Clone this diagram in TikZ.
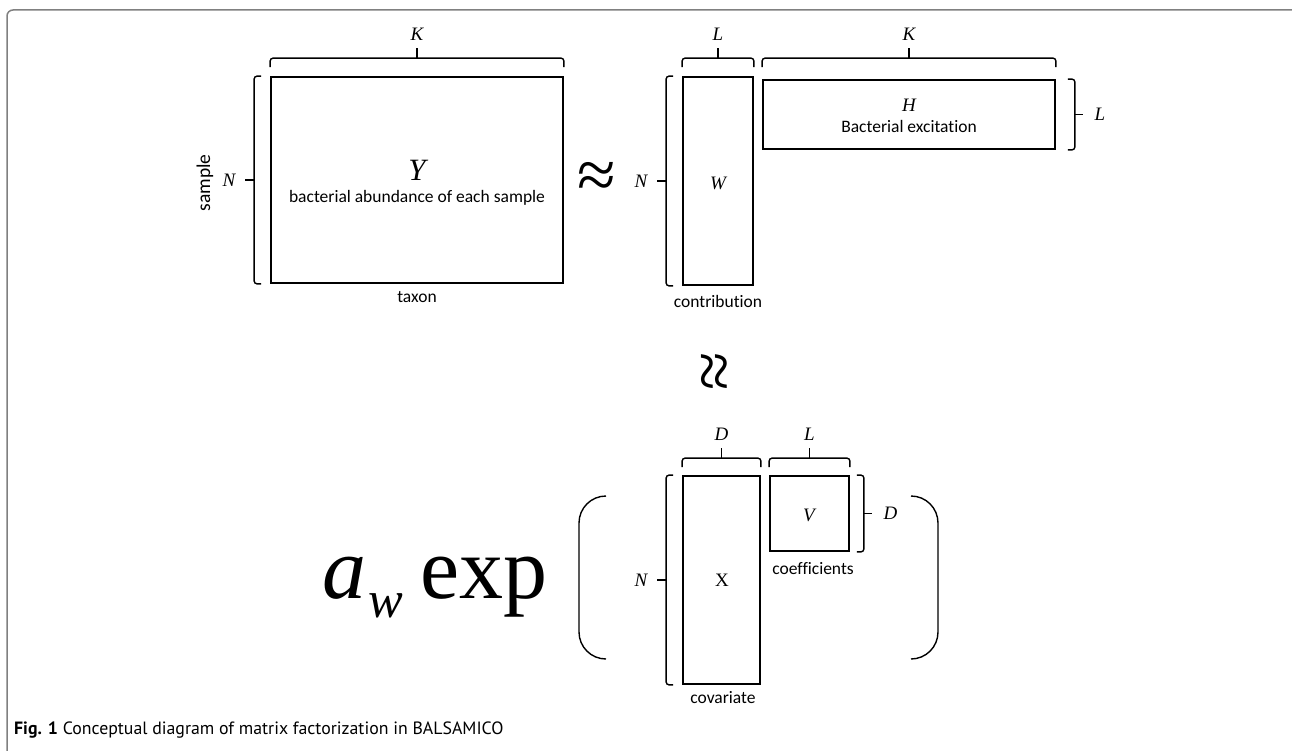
\documentclass[tikz,border=0pt]{standalone}
\usepackage{fontspec}
\setmainfont[Ligatures=NoCommon]{Carlito}
\newfontfamily\tms{Liberation Serif}
\newfontfamily\capfont{PT Sans}

\definecolor{framec}{HTML}{808080}

\tikzset{
  mat/.style = {draw, line width=1.8pt, inner sep=0pt},
  brc/.style = {line width=1.4pt, rounded corners=3pt},
  dim/.style = {inner sep=1pt, font=\tms\itshape\fontsize{19}{19}\selectfont},
  txt/.style = {inner sep=1pt, font=\fontsize{17.5}{20}\selectfont},
  paren/.style = {line width=1.4pt, rounded corners=27pt}
}

% braces: box, gap, name, label
\newcommand{\bracetop}[4]{%
  \draw[brc] ([yshift=#2]#1.north west) -- ([yshift=#2+9pt]#1.north west)
    -- ([yshift=#2+9pt]#1.north east) -- ([yshift=#2]#1.north east);
  \draw[brc] ([yshift=#2+9pt]#1.north) -- ([yshift=#2+19pt]#1.north)
    node[dim, above=6pt] (#3) {#4};
}
\newcommand{\braceleft}[4]{%
  \draw[brc] ([xshift=-#2]#1.north west) -- ([xshift=-#2-7pt]#1.north west)
    -- ([xshift=-#2-7pt]#1.south west) -- ([xshift=-#2]#1.south west);
  \draw[brc] ([xshift=-#2-7pt]#1.west) -- ([xshift=-#2-16pt]#1.west)
    node[dim, left=8pt] (#3) {#4};
}
\newcommand{\braceright}[4]{%
  \draw[brc] ([xshift=#2]#1.north east) -- ([xshift=#2+7pt]#1.north east)
    -- ([xshift=#2+7pt]#1.south east) -- ([xshift=#2]#1.south east);
  \draw[brc] ([xshift=#2+7pt]#1.east) -- ([xshift=#2+15pt]#1.east)
    node[dim, right=10pt] (#3) {#4};
}

\begin{document}
\begin{tikzpicture}[x=1pt, y=-1pt]
  \useasboundingbox (0,0) rectangle (1292,751);
  \draw[framec, line width=1.5pt, rounded corners=6pt] (7,751) -- (7,10) -- (1292,10);

  % top row
  \node[mat, minimum width=292pt, minimum height=206pt] (Y) at (417,180) {};
  \node[mat, minimum width=70pt, minimum height=208pt] (W) at (718,181) {};
  \node[mat, minimum width=292pt, minimum height=69pt] (H) at (909,114.5) {};

  \node[inner sep=0pt, font=\tms\itshape\fontsize{31}{31}\selectfont] (ylab) at (417,170) {Y};
  \node[txt] (ytxt) at (417,198) {bacterial abundance of each sample};
  \node[dim] (wlab) at (718,183) {W};
  \node[dim] (hlab) at (909,105) {H};
  \node[txt] (htxt) at (909,126) {Bacterial excitation};

  \bracetop{Y}{9pt}{ky}{K}
  \bracetop{W}{9pt}{lw}{L}
  \bracetop{H}{12pt}{kh}{K}
  \braceleft{Y}{9pt}{ny}{N}
  \braceleft{W}{9pt}{nw}{N}
  \braceright{H}{12pt}{lh}{L}

  \node[txt, font=\fontsize{19.5}{20}\selectfont, rotate=90] (smp) at (205,183) {sample};
  \node[txt] (tax) at (417,297) {taxon};
  \node[txt] (ctb) at (718,301) {contribution};

  \node[inner sep=0pt, font=\tms\fontsize{70}{70}\selectfont] (apx) at (597,180) {≈};
  \node[inner sep=0pt, font=\tms\fontsize{70}{70}\selectfont, rotate=90] (apxv) at (719,371) {≈};

  % bottom row
  \node[anchor=base west, inner sep=0pt, font=\tms\itshape\fontsize{88}{88}\selectfont] (aw) at (322,598) {a};
  \node[anchor=base west, inner sep=0pt, font=\tms\itshape\fontsize{52}{52}\selectfont] (aws) at (368,617) {w};
  \node[anchor=base west, inner sep=0pt, font=\tms\fontsize{88}{88}\selectfont] (ex) at (420,598) {exp};

  \draw[paren] (606,496) -| (579,577) |- (606,659);
  \draw[paren] (911,496) -| (938,577) |- (911,659);

  \node[mat, minimum width=77pt, minimum height=208pt] (X) at (721.5,580) {};
  \node[mat, minimum width=79pt, minimum height=75pt] (V) at (809.5,513.5) {};
  \node[inner sep=1pt, font=\tms\fontsize{19}{19}\selectfont] (xlab) at (722,580) {X};
  \node[dim] (vlab) at (809,515) {V};

  \bracetop{X}{8pt}{dx}{D}
  \bracetop{V}{8pt}{lv}{L}
  \braceleft{X}{9pt}{nx}{N}
  \braceright{V}{7pt}{dv}{D}

  \node[txt] (cof) at (813,569) {coefficients};
  \node[txt] (cov) at (723,698) {covariate};

  \node[anchor=base west, inner sep=0pt, font=\capfont\fontsize{17.8}{19}\selectfont] (cap) at (14,734)
    {\textbf{Fig. 1} Conceptual diagram of matrix factorization in BALSAMICO};
\end{tikzpicture}
\end{document}
